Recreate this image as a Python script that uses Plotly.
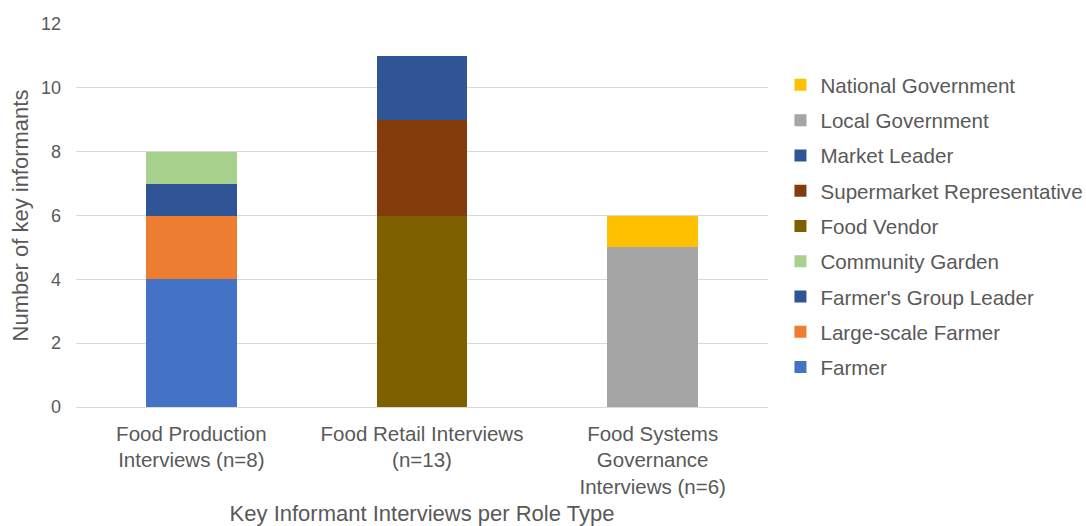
import plotly.graph_objects as go

categories = ["Food Production<br>Interviews (n=8)",
              "Food Retail Interviews<br>(n=13)",
              "Food Systems<br>Governance<br>Interviews (n=6)"]

series_names = ["Farmer", "Large-scale Farmer", "Farmer's Group Leader",
                "Community Garden", "Food Vendor", "Supermarket Representative",
                "Market Leader", "Local Government", "National Government"]

farmer = [4, None, None]
large_scale_farmer = [2, None, None]
farmers_group_leader = [1, None, None]
community_garden = [1, None, None]
food_vendor = [None, 6, None]
supermarket_rep = [None, 3, None]
market_leader = [None, 2, None]
local_government = [None, None, 5]
national_government = [None, None, 1]

series_values = [farmer, large_scale_farmer, farmers_group_leader, community_garden,
                 food_vendor, supermarket_rep, market_leader, local_government,
                 national_government]

colors = ["#4472C4", "#ED7D31", "#2F5597", "#A9D18E", "#7F6000",
          "#843C0C", "#2F5597", "#A5A5A5", "#FFC000"]

y_ticks = [0, 2, 4, 6, 8, 10, 12]

fig = go.Figure()
for i, (name, vals, col) in enumerate(zip(series_names, series_values, colors)):
    fig.add_trace(go.Bar(
        x=categories, y=vals, name=name, marker_color=col,
        marker_line_width=0, width=0.394, legendgroup=f"g{i}",
        legendrank=100 - i,
    ))

font_family = "Liberation Sans, Arial, sans-serif"
text_col = "#595959"

fig.update_layout(
    barmode="stack",
    width=1086, height=526,
    margin=dict(l=76, r=318, t=24, b=119, autoexpand=False),
    paper_bgcolor="white", plot_bgcolor="white",
    font=dict(family=font_family, color=text_col),
    legend=dict(
        traceorder="grouped",
        tracegroupgap=5.5,
        x=1.018, xanchor="left", y=0.893, yanchor="top",
        font=dict(size=20.6, color=text_col, family=font_family),
        itemwidth=30,
    ),
    showlegend=True,
)
fig.update_xaxes(
    range=[-0.5, 2.5], automargin=True,
    tickfont=dict(size=20.5, color=text_col),
    title=dict(text="Key Informant Interviews per Role Type",
               font=dict(size=22, color=text_col), standoff=8),
    showgrid=False, showline=False, ticks="outside", ticklen=8, tickcolor="white",
)
fig.update_yaxes(
    range=[0, 12], tickvals=y_ticks, automargin=True,
    tickfont=dict(size=18, color=text_col),
    title=dict(text="Number of key informants",
               font=dict(size=22, color=text_col), standoff=6),
    showgrid=True, gridcolor="#D9D9D9", gridwidth=1,
    zeroline=True, zerolinecolor="#D9D9D9", zerolinewidth=1,
    showline=False, ticks="", ticklabelstandoff=14,
)

fig.write_html("out.html")
